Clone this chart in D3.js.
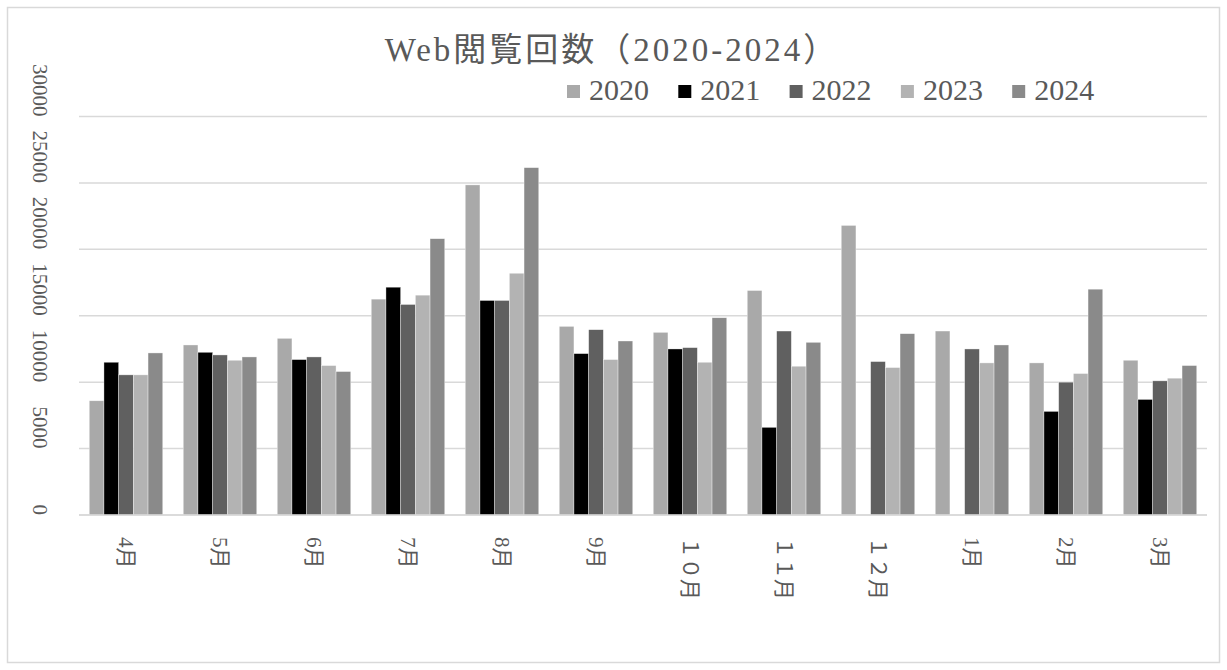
<!DOCTYPE html>
<html>
<head>
<meta charset="utf-8">
<script src="https://cdn.jsdelivr.net/npm/d3@7"></script>
<style>
  html, body { margin: 0; padding: 0; background: #fff; }
  svg { display: block; }
  text { font-family: "Liberation Serif", "Noto Sans CJK JP", serif; fill: #595959; }
</style>
</head>
<body>
<svg id="chart" width="1227" height="670"></svg>
<script>
const title = "Web閲覧回数（2020-2024）";
const months = ["4月","5月","6月","7月","8月","9月","１０月","１１月","１２月","1月","2月","3月"];
const years = ["2020","2021","2022","2023","2024"];
const v2020 = [8600, 12800, 13300, 16250, 24850, 14200, 13750, 16900, 21800, 13850, 11450, 11650];
const v2021 = [11500, 12250, 11700, 17150, 16150, 12150, 12500, 6600, null, null, 7800, 8700];
const v2022 = [10550, 12050, 11900, 15850, 16150, 13950, 12600, 13850, 11550, 12500, 10000, 10100];
const v2023 = [10550, 11650, 11250, 16550, 18200, 11700, 11500, 11200, 11100, 11450, 10650, 10300];
const v2024 = [12200, 11900, 10800, 20800, 26150, 13100, 14850, 13000, 13650, 12800, 17000, 11250];
const yTicks = [0, 5000, 10000, 15000, 20000, 25000, 30000];
const colors = ["#a9a9a9", "#000000", "#606060", "#b3b3b3", "#8a8a8a"];

const series = [v2020, v2021, v2022, v2023, v2024];

const svg = d3.select("#chart");
const plot = {left: 79, right: 1207, top: 116.5, bottom: 515};

// frame
svg.append("rect")
  .attr("x", 7.5).attr("y", 7.5)
  .attr("width", 1212).attr("height", 655)
  .attr("fill", "#fff").attr("stroke", "#d9d9d9").attr("stroke-width", 1.5);

const x0 = d3.scaleBand().domain(months).range([plot.left, plot.right])
  .paddingInner(0.218).paddingOuter(0.109);
const x1 = d3.scaleBand().domain(years).range([0, x0.bandwidth()]).padding(0);
const y = d3.scaleLinear().domain([0, 30000]).range([plot.bottom, plot.top]);
const color = d3.scaleOrdinal().domain(years).range(colors);

// gridlines
svg.append("g").selectAll("line").data(yTicks).join("line")
  .attr("x1", plot.left).attr("x2", plot.right)
  .attr("y1", d => y(d)).attr("y2", d => y(d))
  .attr("stroke", "#d9d9d9").attr("stroke-width", 1.5);

// y labels (rotated)
svg.append("g").selectAll("text").data(yTicks).join("text")
  .attr("transform", d => `translate(40,${y(d)}) rotate(90)`)
  .attr("text-anchor", "end")
  .attr("dominant-baseline", "central")
  .style("font-size", "21px")
  .text(d => d);

// bars
const groups = svg.append("g").selectAll("g").data(months).join("g")
  .attr("transform", d => `translate(${x0(d)},0)`);
groups.selectAll("rect")
  .data((m, i) => years.map((yr, k) => ({yr, v: series[k][i]})).filter(d => d.v != null))
  .join("rect")
  .attr("x", d => x1(d.yr))
  .attr("width", x1.bandwidth())
  .attr("y", d => y(d.v))
  .attr("height", d => y(0) - y(d.v))
  .attr("fill", d => color(d.yr))
  .attr("stroke", "#ffffff").attr("stroke-width", 0.6).attr("stroke-opacity", 0.6);

// x axis line
svg.append("line")
  .attr("x1", plot.left).attr("x2", plot.right)
  .attr("y1", y(0)).attr("y2", y(0))
  .attr("stroke", "#d9d9d9").attr("stroke-width", 1.5);

// x labels (rotated)
svg.append("g").selectAll("text").data(months).join("text")
  .attr("transform", d => `translate(${x0(d) + x0.bandwidth() / 2},537) rotate(90)`)
  .attr("text-anchor", "start")
  .attr("dominant-baseline", "central")
  .style("font-size", "21px")
  .text(d => d);

// title
svg.append("text")
  .attr("x", 612).attr("y", 61)
  .attr("text-anchor", "middle")
  .style("font-size", "33px")
  .style("letter-spacing", "3px")
  .text(title);

// legend
const legend = svg.append("g").selectAll("g").data(years).join("g")
  .attr("transform", (d, i) => `translate(${567 + i * 111.3},0)`);
legend.append("rect")
  .attr("x", 0).attr("y", 85).attr("width", 13).attr("height", 13)
  .attr("fill", d => color(d));
legend.append("text")
  .attr("x", 22).attr("y", 100)
  .style("font-size", "30px")
  .text(d => d);
</script>
</body>
</html>
